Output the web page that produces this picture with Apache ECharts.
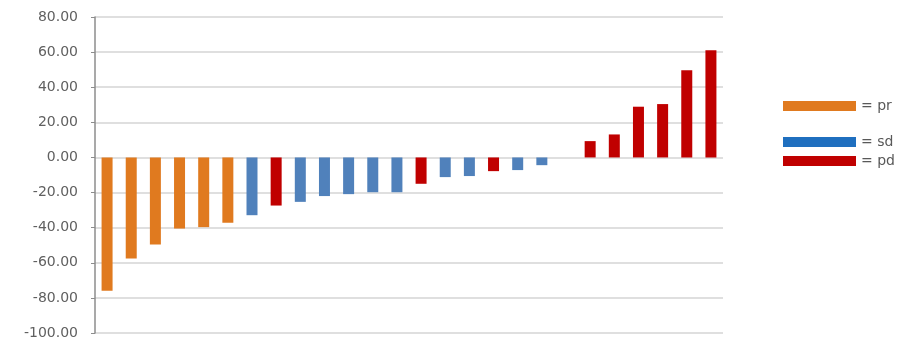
<!DOCTYPE html>
<html><head><meta charset="utf-8">
<script src="https://cdn.jsdelivr.net/npm/echarts@6/dist/echarts.min.js"></script>
<style>html,body{margin:0;padding:0;background:#fff}#c{width:902px;height:341px}</style>
</head><body><div id="c"></div>
<script>
const categories = ['1','2','3','4','5','6','7','8','9','10','11','12','13','14','15','16','17','18','19','20','21','22','23','24','25','26'];
const values = [-76, -57.5, -49.6, -40.5, -39.7, -37.2, -32.9, -27.4, -25.3, -22, -20.9, -19.8, -19.8, -15, -11.2, -10.6, -7.8, -7.2, -4.4, null, 9.3, 13.1, 28.9, 30.4, 49.6, 61];
const groups = ['pr','pr','pr','pr','pr','pr','sd','pd','sd','sd','sd','sd','sd','pd','sd','sd','pd','sd','sd','sd','pd','pd','pd','pd','pd','pd'];
const seriesNames = ['pr','sd','pd'];
const barColors = {pr:'#E07A1F', sd:'#5081BB', pd:'#C00000'};
const legendColors = {pr:'#E07A1F', sd:'#1F6FBF', pd:'#C00000'};
const yTicks = [-100,-80,-60,-40,-20,0,20,40,60,80];

const series = seriesNames.map(n => ({
  name: n, type: 'bar', barWidth: 11, barGap: '-100%',
  itemStyle: {color: barColors[n]},
  data: values.map((v,i) => groups[i] === n ? v : null)
}));
const legendTops = [94, 130, 149];
const legends = seriesNames.map((n,i) => ({
  data: [{name: n, itemStyle: {color: legendColors[n]}}],
  left: 778, top: legendTops[i], orient: 'vertical',
  itemWidth: 73, itemHeight: 10, itemGap: 0,
  icon: 'rect', selectedMode: false,
  formatter: '= {name}',
  textStyle: {fontSize: 14, color: '#595959', fontFamily: 'DejaVu Sans, sans-serif'}
}));
const chart = echarts.init(document.getElementById('c'));
chart.setOption({
  animation: false,
  grid: {left: 95, right: 179, top: 17, bottom: 8, containLabel: false},
  legend: legends,
  xAxis: {type: 'category', data: categories, axisLine: {show: false}, axisTick: {show: false}, axisLabel: {show: false}},
  yAxis: {type: 'value', min: yTicks[0], max: yTicks[yTicks.length-1], interval: 20,
    axisLine: {show: true, lineStyle: {color: '#8c8c8c', width: 1.5}},
    axisTick: {show: true, length: 4, lineStyle: {color: '#8c8c8c'}},
    axisLabel: {formatter: v => v.toFixed(2), fontSize: 14, color: '#606060', margin: 17, fontFamily: 'DejaVu Sans, sans-serif'},
    splitLine: {lineStyle: {color: '#d4d4d4', width: 1.5}}},
  series: series
});
</script></body></html>
